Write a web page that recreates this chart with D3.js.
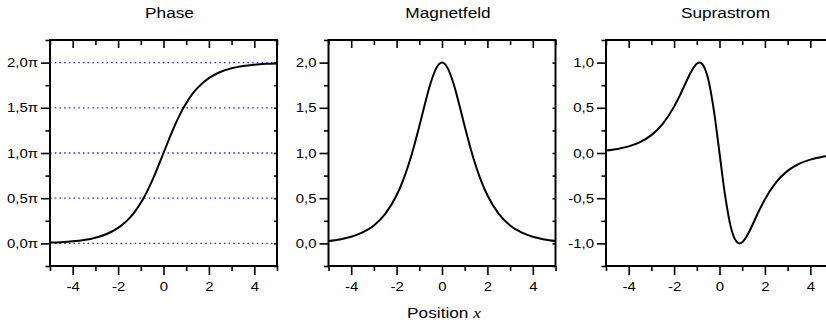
<!DOCTYPE html>
<html>
<head>
<meta charset="utf-8">
<script src="https://cdn.jsdelivr.net/npm/d3@7"></script>
<style>
  html, body { margin: 0; padding: 0; background: #fff; }
  text { font-family: "Liberation Sans", Arial, sans-serif; fill: #000; }
</style>
</head>
<body>
<svg id="chart" width="826" height="325"></svg>
<script>
// ---- data ----
const xs      = [-5, -4.5, -4, -3.5, -3, -2.5, -2, -1.75, -1.5, -1.25, -1, -0.88, -0.75, -0.5, -0.25, 0, 0.25, 0.5, 0.75, 0.88, 1, 1.25, 1.5, 1.75, 2, 2.5, 3, 3.5, 4, 4.5, 5];
const phase   = [0.009, 0.014, 0.023, 0.038, 0.063, 0.104, 0.171, 0.219, 0.280, 0.355, 0.449, 0.500, 0.562, 0.694, 0.843, 1.000, 1.157, 1.306, 1.438, 1.500, 1.551, 1.645, 1.720, 1.781, 1.829, 1.896, 1.937, 1.962, 1.977, 1.986, 1.991];
const field   = [0.027, 0.044, 0.073, 0.121, 0.199, 0.326, 0.532, 0.675, 0.850, 1.059, 1.296, 1.415, 1.545, 1.774, 1.939, 2.000, 1.939, 1.774, 1.545, 1.415, 1.296, 1.059, 0.850, 0.675, 0.532, 0.326, 0.199, 0.121, 0.073, 0.044, 0.027];
const current = [0.027, 0.044, 0.073, 0.121, 0.198, 0.322, 0.513, 0.635, 0.769, 0.898, 0.987, 1.000, 0.981, 0.820, 0.475, 0.000, -0.475, -0.820, -0.981, -1.000, -0.987, -0.898, -0.769, -0.635, -0.513, -0.322, -0.198, -0.121, -0.073, -0.044, -0.027];

const titles = ["Phase", "Magnetfeld", "Suprastrom"];
const xMajor = [-4, -2, 0, 2, 4];
const xMinor = [-5, -3, -1, 1, 3, 5];
const yDomains = [[-0.25, 2.25], [-0.25, 2.25], [-1.25, 1.25]];
const yMajors = [[0, 0.5, 1, 1.5, 2], [0, 0.5, 1, 1.5, 2], [-1, -0.5, 0, 0.5, 1]];
const yMinors = [[-0.25, 0.25, 0.75, 1.25, 1.75, 2.25], [-0.25, 0.25, 0.75, 1.25, 1.75, 2.25], [-1.25, -0.75, -0.25, 0.25, 0.75, 1.25]];
const ySuffix = ["π", "", ""];
const gridLines = [0, 0.5, 1, 1.5, 2];
const xLabel = "Position ";
const xLabelVar = "x";

// ---- layout ----
const svg = d3.select("#chart");
const panelLeft = [50, 328.5, 606];
const pw = 227, topY = 40, bottomY = 266;
const series = [phase, field, current];
const STRETCH = 1.15;

function stretch(sel) {
  sel.each(function () {
    const t = d3.select(this);
    const x = +t.attr("x") || 0, y = +t.attr("y") || 0;
    t.attr("transform", `translate(${x},${y}) scale(${STRETCH},1) translate(${-x},${-y})`);
  });
}
const fmt = d3.format(".1f");
const numFmt = (d, suf) => fmt(d).replace(".", ",").replace("\u2212", "-") + suf;

panelLeft.forEach((L, i) => {
  const x = d3.scaleLinear().domain([-5, 5]).range([L, L + pw]);
  const y = d3.scaleLinear().domain(yDomains[i]).range([bottomY, topY]);
  const g = svg.append("g");

  // dotted grid (phase panel)
  if (i === 0) {
    g.selectAll("line.grid").data(gridLines).join("line")
      .attr("x1", L).attr("x2", L + pw)
      .attr("y1", d => y(d)).attr("y2", d => y(d))
      .attr("stroke", "#2b2bff").attr("stroke-width", 1.3)
      .attr("stroke-dasharray", "1.6,3.1");
  }

  // curve
  const line = d3.line().x((d, k) => x(xs[k])).y(d => y(d)).curve(d3.curveMonotoneX);
  g.append("path").datum(series[i]).attr("d", line)
    .attr("fill", "none").attr("stroke", "#000").attr("stroke-width", 2);

  const styleAxis = a => {
    a.select(".domain").remove();
    a.selectAll(".tick line").attr("stroke", "#000").attr("stroke-width", 1.6);
    a.selectAll("text").attr("font-size", 13).attr("font-family", "Liberation Sans, Arial, sans-serif").attr("fill", "#000");
  };

  // bottom axis
  const bMaj = g.append("g").attr("transform", `translate(0,${bottomY})`)
    .call(d3.axisBottom(x).tickValues(xMajor).tickSize(9).tickPadding(7).tickSizeOuter(0)
      .tickFormat(d => String(d).replace("\u2212", "-")));
  styleAxis(bMaj);
  stretch(bMaj.selectAll("text"));
  const bMin = g.append("g").attr("transform", `translate(0,${bottomY})`)
    .call(d3.axisBottom(x).tickValues(xMinor).tickSize(5).tickFormat("").tickSizeOuter(0));
  styleAxis(bMin);

  // top axis (inward)
  const tMaj = g.append("g").attr("transform", `translate(0,${topY})`)
    .call(d3.axisBottom(x).tickValues(xMajor).tickSize(8).tickFormat("").tickSizeOuter(0));
  styleAxis(tMaj);
  const tMin = g.append("g").attr("transform", `translate(0,${topY})`)
    .call(d3.axisBottom(x).tickValues(xMinor).tickSize(5).tickFormat("").tickSizeOuter(0));
  styleAxis(tMin);

  // left axis
  const lMaj = g.append("g").attr("transform", `translate(${L},0)`)
    .call(d3.axisLeft(y).tickValues(yMajors[i]).tickSize(9).tickPadding(3).tickSizeOuter(0)
      .tickFormat(d => numFmt(d, ySuffix[i])));
  styleAxis(lMaj);
  stretch(lMaj.selectAll("text"));
  const lMin = g.append("g").attr("transform", `translate(${L},0)`)
    .call(d3.axisLeft(y).tickValues(yMinors[i]).tickSize(4.5).tickFormat("").tickSizeOuter(0));
  styleAxis(lMin);

  // right axis (small inward ticks)
  const rAll = g.append("g").attr("transform", `translate(${L + pw},0)`)
    .call(d3.axisRight(y).tickValues(yMajors[i].concat(yMinors[i])).tickSize(-3).tickFormat("").tickSizeOuter(0));
  styleAxis(rAll);

  // frame
  g.append("rect").attr("x", L).attr("y", topY).attr("width", pw).attr("height", bottomY - topY)
    .attr("fill", "none").attr("stroke", "#000").attr("stroke-width", 2);

  // title
  const t = g.append("text").attr("x", L + pw / 2 + 6).attr("y", 18)
    .attr("text-anchor", "middle").attr("font-size", 15).text(titles[i]);
  stretch(t);
});

// x axis label
const xl = svg.append("text").attr("x", 444).attr("y", 318).attr("text-anchor", "middle").attr("font-size", 15);
xl.append("tspan").text(xLabel);
xl.append("tspan").attr("font-family", "Liberation Serif, Times New Roman, serif").attr("font-style", "italic").text(xLabelVar);
stretch(xl);
</script>
</body>
</html>
